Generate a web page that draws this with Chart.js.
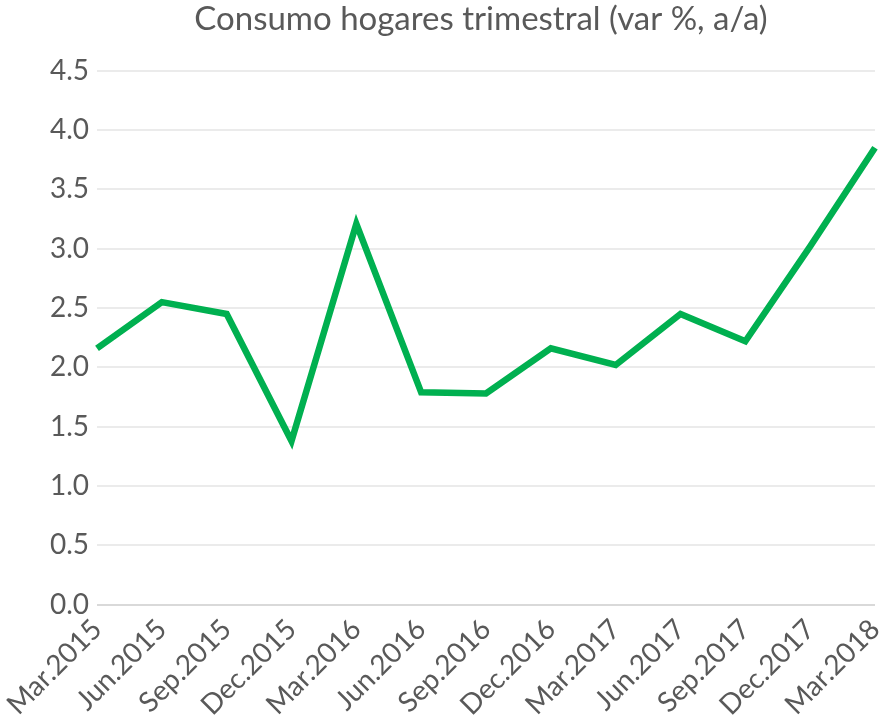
<!DOCTYPE html>
<html>
<head>
<meta charset="utf-8">
<script src="https://cdn.jsdelivr.net/npm/chart.js@4.4.0/dist/chart.umd.min.js"></script>
<style>
  html, body { margin: 0; padding: 0; background: #fff; }
  #wrap { width: 881px; height: 721px; }
</style>
</head>
<body>
<div id="wrap"><canvas id="myChart"></canvas></div>
<script>
// Trimestres
const trimestres = ['Mar.2015', 'Jun.2015', 'Sep.2015', 'Dec.2015', 'Mar.2016', 'Jun.2016', 'Sep.2016',
  'Dec.2016', 'Mar.2017', 'Jun.2017', 'Sep.2017', 'Dec.2017', 'Mar.2018']

// Consumo hogares, var % a/a
const consumoHogares = [2.16, 2.55, 2.45, 1.38, 3.21, 1.79, 1.78, 2.16, 2.02, 2.45, 2.22, 3.02, 3.85]

const tituloGrafico = 'Consumo hogares trimestral (var %, a/a)'
const ejeYMin = 0
const ejeYMax = 4.5
const ejeYPaso = 0.5

const gris = '#595959'

// centra el titulo sobre el area del grafico
const centrarTitulo = {
  id: 'centrarTitulo',
  afterLayout (chart) {
    if (chart.titleBlock) {
      chart.titleBlock.left = chart.chartArea.left - 10
      chart.titleBlock.right = chart.chartArea.right
    }
  }
}

const config = {
  type: 'line',
  data: {
    labels: trimestres,
    datasets: [
      {
        label: 'Consumo hogares',
        data: consumoHogares,
        borderColor: '#00B050',
        borderWidth: 6.5,
        pointRadius: 0,
        tension: 0,
        borderJoinStyle: 'miter'
      }
    ]
  },
  options: {
    responsive: true,
    maintainAspectRatio: false,
    animation: false,
    layout: { padding: { left: 0, right: 6, top: 0, bottom: -1 } },
    plugins: {
      legend: { display: false },
      tooltip: { enabled: false },
      title: {
        display: true,
        text: tituloGrafico,
        color: gris,
        font: { family: 'Lato', size: 33, weight: 'normal' },
        padding: { top: 0, bottom: 31 }
      }
    },
    scales: {
      x: {
        offset: false,
        grid: { display: false },
        border: { display: false },
        afterFit (scale) { scale.paddingRight = 0 },
        ticks: {
          color: gris,
          font: { family: 'Lato', size: 28 },
          minRotation: 45,
          maxRotation: 45,
          autoSkip: false,
          padding: 0
        }
      },
      y: {
        min: ejeYMin,
        max: ejeYMax,
        afterFit (scale) { scale.width = 97 },
        grid: {
          color: (ctx) => ctx.tick && ctx.tick.value === 0 ? '#d9d9d9' : '#ebebeb',
          lineWidth: 2,
          drawTicks: false
        },
        border: { display: false },
        ticks: {
          stepSize: ejeYPaso,
          color: gris,
          font: { family: 'Lato', size: 28 },
          padding: 8,
          callback: (v) => v.toFixed(1)
        }
      }
    }
  },
  plugins: [centrarTitulo]
}

const chart = new Chart(document.getElementById('myChart'), config)
</script>
</body>
</html>
